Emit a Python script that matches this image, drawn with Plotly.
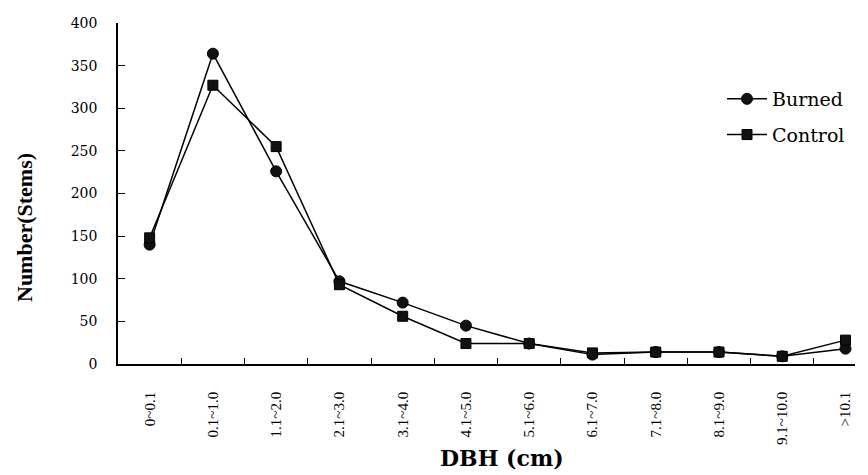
import plotly.graph_objects as go

categories = ["0~0.1", "0.1~1.0", "1.1~2.0", "2.1~3.0", "3.1~4.0", "4.1~5.0",
              "5.1~6.0", "6.1~7.0", "7.1~8.0", "8.1~9.0", "9.1~10.0", ">10.1"]
burned = [140, 364, 226, 97, 72, 45, 24, 11, 14, 14, 9, 18]
control = [148, 327, 255, 93, 56, 24, 24, 13, 14, 14, 9, 28]
y_ticks = [0, 50, 100, 150, 200, 250, 300, 350, 400]

# the page body adds an 8px offset; work in screen pixels and convert
OFF = 8
W, H = 868 - OFF, 475 - OFF
plot_left, plot_right, plot_top, plot_bottom = 118, 855, 23, 364  # screen px
L = plot_left - OFF
R = W - (plot_right - OFF)
T = plot_top - OFF
B = H - (plot_bottom - OFF)
pw, ph = W - L - R, H - T - B

def px_x(sx):
    return (sx - OFF - L) / pw

def px_y(sy):
    return (H - B - (sy - OFF)) / ph

fig = go.Figure()
fig.add_trace(go.Scatter(x=categories, y=burned, name="Burned", mode="lines+markers",
                         legendgroup="b",
                         line=dict(color="black", width=1.5),
                         marker=dict(symbol="circle", size=11, color="#111",
                                     line=dict(color="black", width=1))))
fig.add_trace(go.Scatter(x=categories, y=control, name="Control", mode="lines+markers",
                         legendgroup="c",
                         line=dict(color="black", width=1.5),
                         marker=dict(symbol="square", size=10, color="#111",
                                     line=dict(color="black", width=1))))

fig.update_layout(
    width=W, height=H,
    margin=dict(l=L, r=R, t=T, b=B, autoexpand=False),
    paper_bgcolor="white", plot_bgcolor="white",
    showlegend=True,
    legend=dict(x=px_x(722), y=px_y(80), xanchor="left", yanchor="top",
                font=dict(family="DejaVu Serif", size=19, color="black"),
                bgcolor="rgba(0,0,0,0)", itemwidth=40, tracegroupgap=8),
    xaxis=dict(type="category", range=[-0.5, 11.15], automargin=False,
               showline=True, linecolor="black", linewidth=1.5,
               ticks="inside", tickson="boundaries", ticklen=6, tickcolor="black",
               tickangle=-90, showgrid=False, zeroline=False,
               tickfont=dict(family="Liberation Serif", size=15, color="black"),
               ticklabelstandoff=20),
    yaxis=dict(range=[0, 400], tickvals=y_ticks, automargin=False,
               showline=True, linecolor="black", linewidth=1.5,
               ticks="inside", ticklen=7, tickcolor="black",
               showgrid=False, zeroline=False,
               tickfont=dict(family="DejaVu Serif", size=14, color="black"),
               ticklabelstandoff=16),
    annotations=[
        dict(text="<b>DBH (cm)</b>", x=px_x(502), y=px_y(458), xref="paper", yref="paper",
             xanchor="center", yanchor="middle", showarrow=False,
             font=dict(family="DejaVu Serif", size=22, color="black")),
        dict(text="<b>Number(Stems)</b>", x=px_x(24), y=px_y(228), xref="paper", yref="paper",
             xanchor="center", yanchor="middle", showarrow=False, textangle=-90,
             font=dict(family="Liberation Serif", size=22, color="black")),
    ],
)

fig.write_html("out.html")
